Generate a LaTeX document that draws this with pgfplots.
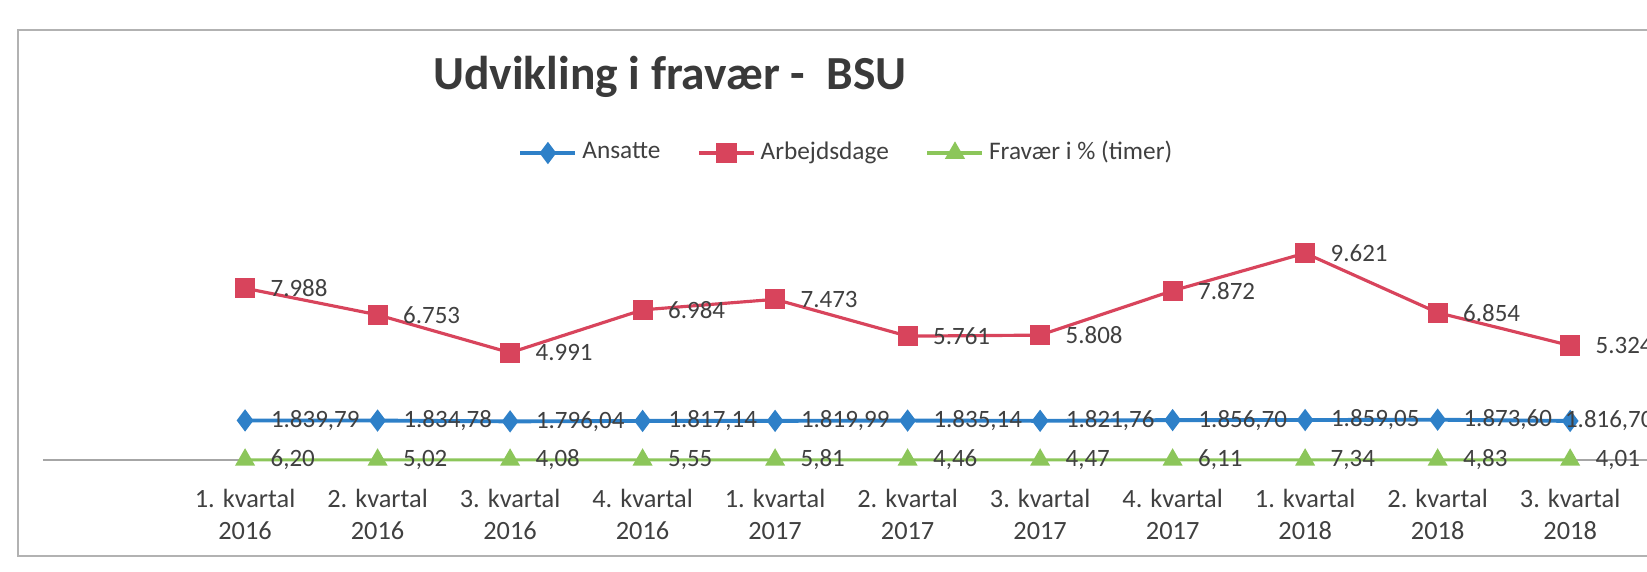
\documentclass[border=0pt]{standalone}
\usepackage{fontspec}
\setmainfont{Carlito}
\usepackage{pgfplots}
\pgfplotsset{compat=1.18}
\definecolor{cBlue}{RGB}{46,128,200}
\definecolor{cRed}{RGB}{216,68,92}
\definecolor{cGreen}{RGB}{140,198,90}
\definecolor{cText}{RGB}{64,64,64}
\begin{document}
\begin{tikzpicture}
\path[use as bounding box] (0,0) rectangle (164.7mm,57.1mm);
\draw[gray!60, line width=0.5pt] (170mm,54.1mm) -- (1.8mm,54.1mm) -- (1.8mm,1.5mm) -- (170mm,1.5mm);
\node[font=\fontsize{13.5}{16}\selectfont\bfseries, text=cText!90!black] at (67.0mm,49.4mm) {Udvikling i fravær -\ \ BSU};
\begin{axis}[
  at={(4.3mm,11.1mm)}, anchor=south west,
  scale only axis, width=160.4mm, height=23.65mm,
  xmin=-1.525, xmax=10.58, ymin=0, ymax=11000,
  axis x line=bottom, axis y line=none,
  x axis line style={gray!70, -, line width=0.6pt},
  xtick={0,...,10}, major tick length=0pt,
  xticklabels={{1. kvartal\\2016},{2. kvartal\\2016},{3. kvartal\\2016},{4. kvartal\\2016},{1. kvartal\\2017},{2. kvartal\\2017},{3. kvartal\\2017},{4. kvartal\\2017},{1. kvartal\\2018},{2. kvartal\\2018},{3. kvartal\\2018}},
  xticklabel style={align=center, font=\fontsize{7.5}{9.2}\selectfont, text=cText, inner sep=0pt, yshift=-2.8mm},
  clip=false,
  legend columns=3,
  legend style={draw=none, fill=none, at={(0.296,1.298)}, anchor=west, inner sep=0pt,
    font=\fontsize{7.2}{8.6}\selectfont, text=cText,
    nodes={inner sep=0.5mm},
    /tikz/every even column/.append style={column sep=3.2mm}},
  legend cell align=left,
  legend image code/.code={\draw[mark repeat=2,mark phase=2] plot coordinates {(0mm,0mm) (2.75mm,0mm) (5.5mm,0mm)};},
  visualization depends on={x \as \px},
  nodes near coords style={anchor=west, inner sep=0pt, font=\fontsize{7.1}{8.5}\selectfont, text=cText},
]
\addplot[color=cBlue, line width=1.1pt, mark=diamond*, mark size=0.8mm, mark options={fill=cBlue, solid},
  every node near coord/.append style={xshift={ifthenelse(\px>9.5,-0.7,2.4)*1mm}},
  nodes near coords={\pgfmathprintnumber[assume math mode=true,use comma,1000 sep={.},fixed,fixed zerofill,precision=2]{\pgfplotspointmeta}}]
  coordinates {(0,1839.79) (1,1834.78) (2,1796.04) (3,1817.14) (4,1819.99) (5,1835.14) (6,1821.76) (7,1856.70) (8,1859.05) (9,1873.60) (10,1816.70)};
\addlegendentry{Ansatte}
\addplot[color=cRed, line width=0.9pt, mark=square*, mark size=0.85mm, mark options={fill=cRed, solid},
  every node near coord/.append style={xshift=2.4mm},
  nodes near coords={\pgfmathprintnumber[assume math mode=true,1000 sep={.},fixed,precision=0]{\pgfplotspointmeta}}]
  coordinates {(0,7988) (1,6753) (2,4991) (3,6984) (4,7473) (5,5761) (6,5808) (7,7872) (8,9621) (9,6854) (10,5324)};
\addlegendentry{Arbejdsdage}
\addplot[color=cGreen, line width=0.9pt, mark=triangle*, mark size=0.85mm, mark options={fill=cGreen, solid},
  every node near coord/.append style={xshift=2.4mm},
  nodes near coords={\pgfmathprintnumber[assume math mode=true,use comma,fixed,fixed zerofill,precision=2]{\pgfplotspointmeta}}]
  coordinates {(0,6.20) (1,5.02) (2,4.08) (3,5.55) (4,5.81) (5,4.46) (6,4.47) (7,6.11) (8,7.34) (9,4.83) (10,4.01)};
\addlegendentry{Fravær i \% (timer)}
\end{axis}
\end{tikzpicture}
\end{document}
